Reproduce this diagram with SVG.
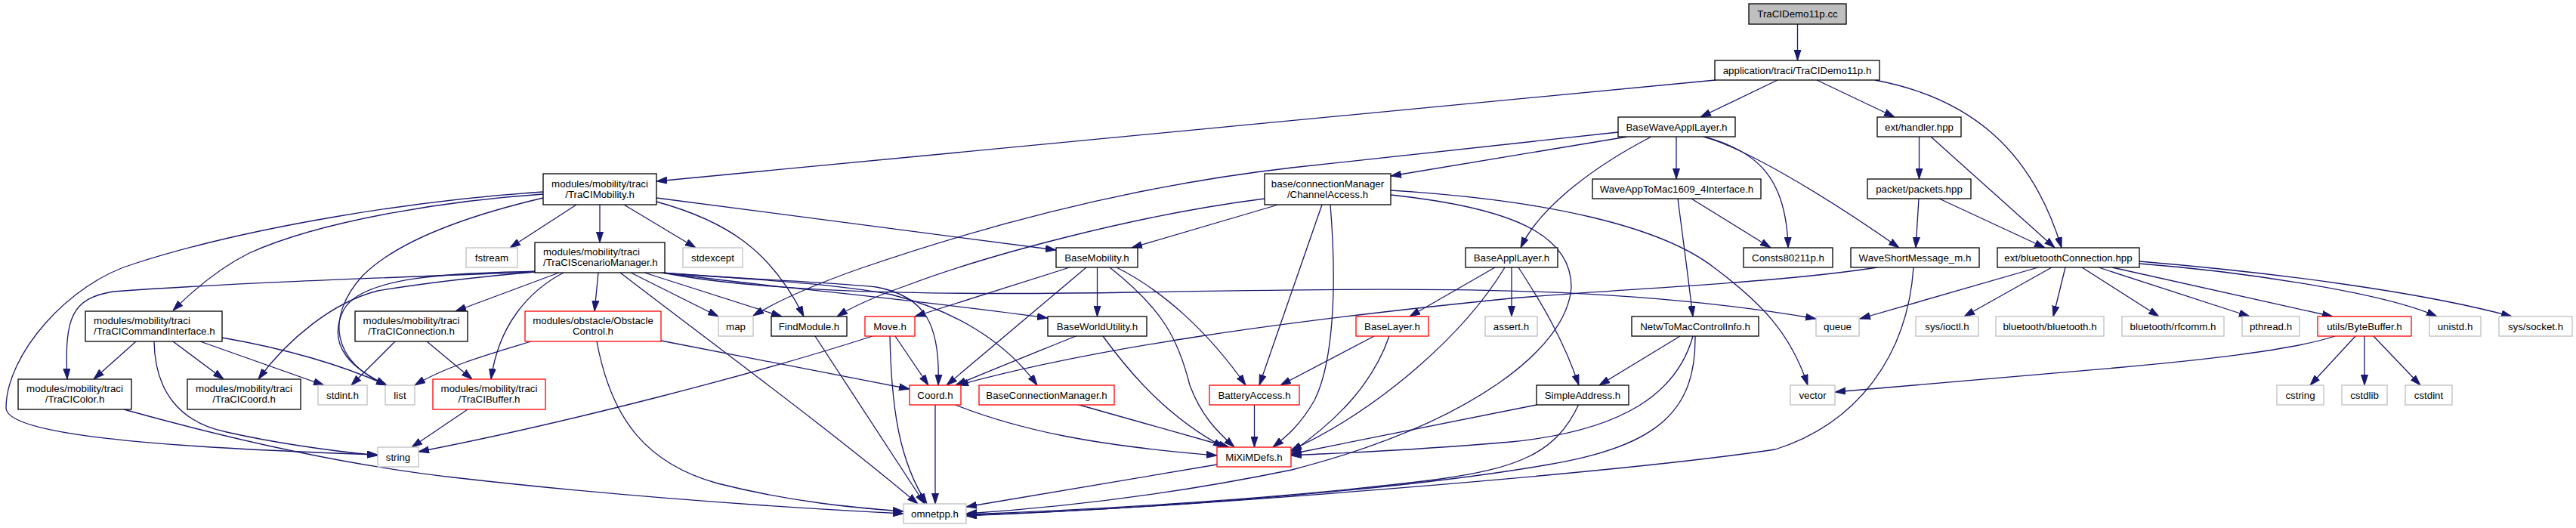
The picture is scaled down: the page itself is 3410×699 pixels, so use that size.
<svg xmlns="http://www.w3.org/2000/svg" width="3410" height="699" viewBox="0 0 3410 699">
<style>
text{font-family:"Liberation Sans",Arial,sans-serif;font-size:13.3px;fill:#000}
.node rect{fill:#fff;stroke:#000;stroke-width:1.3}
.root rect{fill:#bfbfbf}
.red rect{stroke:#ff0000}
.ext rect{stroke:#bfbfbf}
.c{text-anchor:middle}
#edges path{fill:none;stroke:#191970;stroke-width:1.3;marker-end:url(#ah)}
</style>
<defs>
<marker id="ah" markerWidth="14" markerHeight="10" refX="14" refY="5" orient="auto" markerUnits="userSpaceOnUse">
<path d="M0,0.5 L14,5 L0,9.5 z" fill="#191970" stroke="#191970" stroke-width="1"/>
</marker>
</defs>
<rect width="3410" height="699" fill="#fff"/>
<g id="edges">
<path d="M2379.5,32 L2379.5,80"/>
<path d="M2271,106 L869,240"/>
<path d="M2353,106 L2251,155"/>
<path d="M2405,106 L2508,155"/>
<path d="M2482,106 C2610,130 2690,200 2729,328"/>
<path d="M2154,181 L1841,233"/>
<path d="M2142,175 L1710,222 C1500,246 1300,300 1140,355 C1080,376 1030,398 997,418"/>
<path d="M2186,181 C2120,215 2040,270 2013,328"/>
<path d="M2219,181 L2219,237"/>
<path d="M2255,181 C2330,200 2365,240 2367,328"/>
<path d="M2258,182 C2310,197 2410,255 2514,328"/>
<path d="M2540.5,181 L2540.5,237"/>
<path d="M2556,181 L2720,328"/>
<path d="M2540,263 L2536,328"/>
<path d="M2567,263 L2707,328"/>
<path d="M2239,263 L2344,328"/>
<path d="M2221,263 C2226,300 2235,370 2241,419"/>
<path d="M794,271 L794,321"/>
<path d="M763,271 L675,328"/>
<path d="M826,271 L921,328"/>
<path d="M869,267 C960,292 1020,330 1064,419"/>
<path d="M869,262 L1398,331"/>
<path d="M719,254 C550,265 330,300 178,349 C90,375 8,470 8,540 C8,575 200,592 500,602"/>
<path d="M719,257 C600,265 430,290 330,335 C290,355 255,385 229,411"/>
<path d="M719,262 C600,290 520,325 480,365 C430,420 440,480 512,510"/>
<path d="M740,361 L603,412"/>
<path d="M746,361 C700,385 660,430 650,502"/>
<path d="M792,361 L787,412"/>
<path d="M821,361 C950,460 1100,570 1215,667"/>
<path d="M835,361 L951,419"/>
<path d="M853,361 L1035,419"/>
<path d="M875,361 C950,368 1080,372 1160,380 C1225,392 1245,430 1242,510"/>
<path d="M875,361 C1000,370 1100,375 1180,390 C1260,410 1330,450 1373,510"/>
<path d="M877,361 C1000,385 1200,392 1500,387 C1900,380 2150,378 2404,422"/>
<path d="M877,361 C1000,378 1200,395 1387,421"/>
<path d="M708,360 C500,368 300,375 150,386 C95,395 85,420 89,502"/>
<path d="M708,360 C640,366 560,375 500,385 C440,400 380,450 342,502"/>
<path d="M708,359 C600,362 480,365 455,410 C430,460 470,490 512,510"/>
<path d="M180,452 L124,502"/>
<path d="M229,452 L296,502"/>
<path d="M265,452 L429,510"/>
<path d="M294,447 C380,462 450,482 512,510"/>
<path d="M204,452 C205,520 240,560 300,572 C380,590 450,598 500,603"/>
<path d="M523,452 L465,510"/>
<path d="M565,452 L625,502"/>
<path d="M619,542 L545,592"/>
<path d="M703,452 C650,468 590,485 549,510"/>
<path d="M875,451 L1204,515"/>
<path d="M790,452 C810,560 860,615 950,640 C1050,665 1130,672 1196,677"/>
<path d="M164,542 C300,580 450,615 600,632 C800,655 1000,670 1196,680"/>
<path d="M1079,445 L1224,667"/>
<path d="M1674,263 C1500,285 1300,340 1200,378 C1160,392 1130,405 1108,419"/>
<path d="M1692,271 L1498,328"/>
<path d="M1750,271 L1667,510"/>
<path d="M1761,271 C1770,380 1765,480 1740,530 C1720,565 1700,580 1685,592"/>
<path d="M1841,258 C2000,275 2080,310 2080,380 C2075,460 1950,560 1710,622 C1550,655 1400,672 1279,680"/>
<path d="M1841,252 C2050,265 2200,300 2270,355 C2330,400 2370,440 2393,510"/>
<path d="M1416,354 L1211,419"/>
<path d="M1438,354 L1253,510"/>
<path d="M1452.5,354 L1452.5,419"/>
<path d="M1469,354 C1540,410 1560,450 1575,510 C1590,550 1610,570 1634,592"/>
<path d="M1478,354 C1540,385 1600,440 1649,510"/>
<path d="M1185,445 L1229,510"/>
<path d="M1178,445 C1180,540 1190,610 1227,667"/>
<path d="M1155,445 C1000,495 750,560 554,598"/>
<path d="M1424,445 C1350,475 1300,495 1265,510"/>
<path d="M1460,445 C1500,500 1550,555 1620,592"/>
<path d="M1238,535 L1238,667"/>
<path d="M1262,535 C1350,570 1450,590 1611,603"/>
<path d="M1425,535 L1627,592"/>
<path d="M1660.5,535 L1660.5,592"/>
<path d="M1611,615 L1279,671"/>
<path d="M1979,354 L1866,419"/>
<path d="M1992,354 C1940,440 1830,540 1709,596"/>
<path d="M2001,354 L2001,419"/>
<path d="M2010,354 C2040,400 2070,450 2090,510"/>
<path d="M1819,445 L1695,510"/>
<path d="M1839,445 C1820,500 1780,550 1709,599"/>
<path d="M2034,536 L1709,601"/>
<path d="M2090,535 C2060,600 2010,620 1900,635 C1700,660 1450,675 1279,681"/>
<path d="M2224,445 L2117,510"/>
<path d="M2241,445 C2220,520 2150,570 2000,585 C1850,598 1760,600 1709,603"/>
<path d="M2244,445 C2245,540 2200,590 2050,615 C1850,650 1500,675 1279,682"/>
<path d="M2485,354 C2350,375 2150,382 2000,395 C1700,425 1450,460 1268,510"/>
<path d="M2533,354 C2525,470 2460,560 2350,595 C2150,625 1600,670 1279,683"/>
<path d="M2698,354 L2462,422"/>
<path d="M2716,354 L2600,419"/>
<path d="M2734,354 L2718,419"/>
<path d="M2756,354 L2858,419"/>
<path d="M2778,354 L2978,419"/>
<path d="M2796,354 L3088,419"/>
<path d="M2832,349 C2950,358 3150,385 3226,419"/>
<path d="M2832,346 C3000,360 3200,385 3325,419"/>
<path d="M3091,445 C3030,465 2900,478 2800,487 C2650,500 2500,512 2429,519"/>
<path d="M3118,445 L3058,510"/>
<path d="M3130,445 L3130,510"/>
<path d="M3142,445 L3204,510"/>
</g>
<g id="n_root" class="node root"><rect x="2315" y="5" width="129" height="27"/><text class="c" x="2379.5" y="23">TraCIDemo11p.cc</text></g>
<g id="n_app" class="node"><rect x="2270" y="80" width="218" height="26"/><text class="c" x="2379" y="97.6">application/traci/TraCIDemo11p.h</text></g>
<g id="n_bwal" class="node"><rect x="2142" y="155" width="155" height="26"/><text class="c" x="2219.5" y="172.6">BaseWaveApplLayer.h</text></g>
<g id="n_handler" class="node"><rect x="2485" y="155" width="111" height="26"/><text class="c" x="2540.5" y="172.6">ext/handler.hpp</text></g>
<g id="n_mob" class="node"><rect x="719" y="230" width="150" height="41"/><text class="c" x="794" y="247.5">modules/mobility/traci</text><text class="c" x="794" y="261.5">/TraCIMobility.h</text></g>
<g id="n_chan" class="node"><rect x="1674" y="230" width="167" height="41"/><text class="c" x="1757.5" y="247.5">base/connectionManager</text><text class="c" x="1757.5" y="261.5">/ChannelAccess.h</text></g>
<g id="n_w2m" class="node"><rect x="2108" y="237" width="223" height="26"/><text class="c" x="2219.5" y="254.6">WaveAppToMac1609_4Interface.h</text></g>
<g id="n_packets" class="node"><rect x="2472" y="237" width="137" height="26"/><text class="c" x="2540.5" y="254.6">packet/packets.hpp</text></g>
<g id="n_fstream" class="node ext"><rect x="617" y="328" width="68" height="26"/><text class="c" x="651" y="345.6">fstream</text></g>
<g id="n_tsm" class="node"><rect x="708" y="321" width="172" height="40"/><text x="719" y="338">modules/mobility/traci</text><text x="719" y="352">/TraCIScenarioManager.h</text></g>
<g id="n_stdexcept" class="node ext"><rect x="904" y="328" width="79" height="26"/><text class="c" x="943.5" y="345.6">stdexcept</text></g>
<g id="n_bmob" class="node"><rect x="1398" y="328" width="108" height="26"/><text class="c" x="1452" y="345.6">BaseMobility.h</text></g>
<g id="n_bapl" class="node"><rect x="1940" y="328" width="122" height="26"/><text class="c" x="2001" y="345.6">BaseApplLayer.h</text></g>
<g id="n_consts" class="node"><rect x="2308" y="328" width="118" height="26"/><text class="c" x="2367" y="345.6">Consts80211p.h</text></g>
<g id="n_wsm" class="node"><rect x="2450" y="328" width="170" height="26"/><text class="c" x="2535" y="345.6">WaveShortMessage_m.h</text></g>
<g id="n_btc" class="node"><rect x="2644" y="328" width="188" height="26"/><text class="c" x="2738" y="345.6">ext/bluetoothConnection.hpp</text></g>
<g id="n_tcmd" class="node"><rect x="113" y="412" width="181" height="40"/><text x="124" y="429">modules/mobility/traci</text><text x="124" y="443">/TraCICommandInterface.h</text></g>
<g id="n_tcon" class="node"><rect x="470" y="412" width="149" height="40"/><text class="c" x="544.5" y="429">modules/mobility/traci</text><text class="c" x="544.5" y="443">/TraCIConnection.h</text></g>
<g id="n_obst" class="node red"><rect x="695" y="412" width="180" height="40"/><text class="c" x="785" y="429">modules/obstacle/Obstacle</text><text class="c" x="785" y="443">Control.h</text></g>
<g id="n_map" class="node ext"><rect x="951" y="419" width="46" height="26"/><text class="c" x="974" y="436.6">map</text></g>
<g id="n_findmod" class="node"><rect x="1021" y="419" width="100" height="26"/><text class="c" x="1071" y="436.6">FindModule.h</text></g>
<g id="n_move" class="node red"><rect x="1145" y="419" width="66" height="26"/><text class="c" x="1178" y="436.6">Move.h</text></g>
<g id="n_bwu" class="node"><rect x="1387" y="419" width="131" height="26"/><text class="c" x="1452.5" y="436.6">BaseWorldUtility.h</text></g>
<g id="n_blayer" class="node red"><rect x="1795" y="419" width="96" height="26"/><text class="c" x="1843" y="436.6">BaseLayer.h</text></g>
<g id="n_assert" class="node ext"><rect x="1966" y="419" width="69" height="26"/><text class="c" x="2000.5" y="436.6">assert.h</text></g>
<g id="n_netw" class="node"><rect x="2160" y="419" width="168" height="26"/><text class="c" x="2244" y="436.6">NetwToMacControlInfo.h</text></g>
<g id="n_queue" class="node ext"><rect x="2404" y="419" width="57" height="26"/><text class="c" x="2432.5" y="436.6">queue</text></g>
<g id="n_ioctl" class="node ext"><rect x="2536" y="419" width="83" height="26"/><text class="c" x="2577.5" y="436.6">sys/ioctl.h</text></g>
<g id="n_bth" class="node ext"><rect x="2642" y="419" width="143" height="26"/><text class="c" x="2713.5" y="436.6">bluetooth/bluetooth.h</text></g>
<g id="n_rfcomm" class="node ext"><rect x="2809" y="419" width="135" height="26"/><text class="c" x="2876.5" y="436.6">bluetooth/rfcomm.h</text></g>
<g id="n_pthread" class="node ext"><rect x="2968" y="419" width="76" height="26"/><text class="c" x="3006" y="436.6">pthread.h</text></g>
<g id="n_bytebuf" class="node red"><rect x="3068" y="419" width="124" height="26"/><text class="c" x="3130" y="436.6">utils/ByteBuffer.h</text></g>
<g id="n_unistd" class="node ext"><rect x="3216" y="419" width="68" height="26"/><text class="c" x="3250" y="436.6">unistd.h</text></g>
<g id="n_socket" class="node ext"><rect x="3308" y="419" width="97" height="26"/><text class="c" x="3356.5" y="436.6">sys/socket.h</text></g>
<g id="n_tcolor" class="node"><rect x="24" y="502" width="150" height="40"/><text class="c" x="99" y="519">modules/mobility/traci</text><text class="c" x="99" y="533">/TraCIColor.h</text></g>
<g id="n_tcoord" class="node"><rect x="248" y="502" width="150" height="40"/><text class="c" x="323" y="519">modules/mobility/traci</text><text class="c" x="323" y="533">/TraCICoord.h</text></g>
<g id="n_stdint" class="node ext"><rect x="421" y="510" width="65" height="26"/><text class="c" x="453.5" y="527.6">stdint.h</text></g>
<g id="n_list" class="node ext"><rect x="510" y="510" width="39" height="26"/><text class="c" x="529.5" y="527.6">list</text></g>
<g id="n_tbuf" class="node red"><rect x="573" y="502" width="149" height="40"/><text class="c" x="647.5" y="519">modules/mobility/traci</text><text class="c" x="647.5" y="533">/TraCIBuffer.h</text></g>
<g id="n_coord" class="node red"><rect x="1204" y="510" width="68" height="26"/><text class="c" x="1238" y="527.6">Coord.h</text></g>
<g id="n_bcm" class="node red"><rect x="1296" y="510" width="179" height="26"/><text class="c" x="1385.5" y="527.6">BaseConnectionManager.h</text></g>
<g id="n_battery" class="node red"><rect x="1601" y="510" width="119" height="26"/><text class="c" x="1660.5" y="527.6">BatteryAccess.h</text></g>
<g id="n_simple" class="node"><rect x="2034" y="510" width="122" height="26"/><text class="c" x="2095" y="527.6">SimpleAddress.h</text></g>
<g id="n_vector" class="node ext"><rect x="2370" y="510" width="59" height="26"/><text class="c" x="2399.5" y="527.6">vector</text></g>
<g id="n_cstring" class="node ext"><rect x="3014" y="510" width="62" height="26"/><text class="c" x="3045" y="527.6">cstring</text></g>
<g id="n_cstdlib" class="node ext"><rect x="3100" y="510" width="60" height="26"/><text class="c" x="3130" y="527.6">cstdlib</text></g>
<g id="n_cstdint" class="node ext"><rect x="3184" y="510" width="62" height="26"/><text class="c" x="3215" y="527.6">cstdint</text></g>
<g id="n_string" class="node ext"><rect x="500" y="592" width="54" height="26"/><text class="c" x="527" y="609.6">string</text></g>
<g id="n_mixim" class="node red"><rect x="1611" y="592" width="98" height="26"/><text class="c" x="1660" y="609.6">MiXiMDefs.h</text></g>
<g id="n_omnetpp" class="node ext"><rect x="1196" y="667" width="83" height="26"/><text class="c" x="1237.5" y="684.6">omnetpp.h</text></g>
</svg>
